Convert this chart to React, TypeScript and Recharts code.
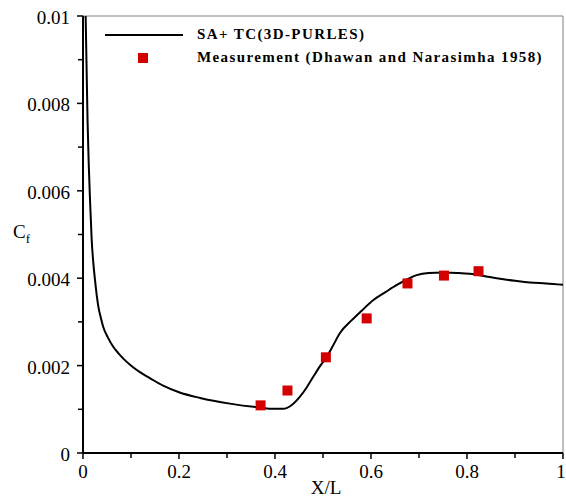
import React from 'react';
import {
  ComposedChart,
  Line,
  Scatter,
  XAxis,
  YAxis,
  ReferenceLine,
  Label,
} from 'recharts';

// simulation curve (SA+ TC 3D-PURLES)
const curveX = [
  0.0055, 0.0075, 0.0095, 0.012, 0.0146, 0.018, 0.0215, 0.025, 0.0285, 0.032,
  0.037, 0.042, 0.052, 0.063, 0.074, 0.084, 0.098, 0.112, 0.126, 0.14, 0.167,
  0.2, 0.244, 0.306, 0.36, 0.4, 0.417, 0.435, 0.452, 0.466, 0.48, 0.4945,
  0.5076, 0.522, 0.535, 0.56, 0.58, 0.605, 0.63, 0.653, 0.675, 0.695, 0.72,
  0.751, 0.78, 0.806, 0.835, 0.862, 0.9, 0.931, 0.965, 1.0,
];
const curveCf = [
  0.01, 0.0088, 0.0076, 0.0066, 0.0058, 0.0049, 0.00435, 0.00396, 0.00362,
  0.00335, 0.0031, 0.00289, 0.00264, 0.00243, 0.00228, 0.00216, 0.00202,
  0.0019, 0.0018, 0.00171, 0.00154, 0.00139, 0.00126, 0.00113, 0.00105,
  0.00101, 0.00101, 0.0011, 0.00129, 0.0015, 0.00175, 0.002, 0.0022, 0.00248,
  0.00274, 0.00304, 0.00325, 0.0035, 0.00368, 0.00384, 0.00397, 0.00407,
  0.00412, 0.00413, 0.00412, 0.0041, 0.00405, 0.004, 0.00394, 0.0039, 0.00388,
  0.00385,
];

// measurement (Dhawan and Narasimha 1958)
const measX = [0.37, 0.426, 0.506, 0.591, 0.676, 0.752, 0.824];
const measCf = [0.00109, 0.00143, 0.00219, 0.00308, 0.00388, 0.00406, 0.00416];

const xTicks = [0, 0.1, 0.2, 0.3, 0.4, 0.5, 0.6, 0.7, 0.8, 0.9, 1];
const yTicks = [0, 0.001, 0.002, 0.003, 0.004, 0.005, 0.006, 0.007, 0.008, 0.009, 0.01];
const xLabels: Record<string, string> = { '0': '0', '0.2': '0.2', '0.4': '0.4', '0.6': '0.6', '0.8': '0.8', '1': '1' };
const yLabels: Record<string, string> = {
  '0': '0', '0.002': '0.002', '0.004': '0.004', '0.006': '0.006', '0.008': '0.008', '0.01': '0.01',
};

const curve = curveX.map((x, i) => ({ x, cf: curveCf[i] }));
const meas = measX.map((x, i) => ({ x, cf: measCf[i] }));

const FONT = '"Liberation Serif", "Times New Roman", serif';
const RED = '#d40000';

const XTick = (props: any) => {
  const { x, y, payload } = props;
  const key = String(+payload.value.toFixed(3));
  const lab = xLabels[key];
  return (
    <g>
      <line x1={x} x2={x} y1={y} y2={y + (lab ? 6 : 5)} stroke="#000" strokeWidth={1.5} />
      {lab && (
        <text x={key === '1' ? x - 2 : x} y={y + 25} textAnchor="middle" fontSize={19} fontFamily={FONT} fill="#000">
          {lab}
        </text>
      )}
    </g>
  );
};

const YTick = (props: any) => {
  const { x, y, payload } = props;
  const key = String(+payload.value.toFixed(4));
  const lab = yLabels[key];
  return (
    <g>
      <line x1={x} x2={x - (lab ? 6 : 5)} y1={y} y2={y} stroke="#000" strokeWidth={1.5} />
      {lab && (
        <text x={x - 13} y={y + 8} textAnchor="end" fontSize={19} fontFamily={FONT} fill="#000">
          {lab}
        </text>
      )}
    </g>
  );
};

const SquareDot = (props: any) => {
  const { cx, cy } = props;
  return <rect x={cx - 5} y={cy - 5} width={10} height={10} fill={RED} />;
};

const LegendBox = () => (
  <div
    style={{
      position: 'absolute',
      left: 105,
      top: 23,
      fontFamily: FONT,
      fontWeight: 'bold',
      fontSize: 15,
      letterSpacing: 1.4,
      color: '#000',
      lineHeight: '23px',
      whiteSpace: 'nowrap',
    }}
  >
    <div style={{ display: 'flex', alignItems: 'center' }}>
      <span style={{ display: 'inline-block', width: 78, height: 2, background: '#000', marginRight: 14 }} />
      <span>SA+ TC(3D-PURLES)</span>
    </div>
    <div style={{ display: 'flex', alignItems: 'center' }}>
      <span style={{ display: 'inline-block', width: 78, marginRight: 14, position: 'relative', height: 10 }}>
        <span style={{ position: 'absolute', left: 33, top: 0, width: 10, height: 10, background: RED }} />
      </span>
      <span>Measurement (Dhawan and Narasimha 1958)</span>
    </div>
  </div>
);

export default function App() {
  return (
    <div style={{ position: 'absolute', left: 0, top: 0, width: 566, height: 497, background: '#fff' }}>
      <ComposedChart width={566} height={497} margin={{ top: 16, right: 3, bottom: 0, left: 0 }}>
        <XAxis
          dataKey="x"
          type="number"
          domain={[0, 1]}
          ticks={xTicks}
          interval={0}
          tickSize={0}
          tickMargin={0}
          tickLine={false}
          tick={<XTick />}
          height={44}
          axisLine={{ stroke: '#000', strokeWidth: 2 }}
        >
          <Label
            content={() => (
              <text x={326} y={494} textAnchor="middle" fontSize={19} fontFamily={FONT} fill="#000">
                X/L
              </text>
            )}
          />
        </XAxis>
        <YAxis
          dataKey="cf"
          type="number"
          domain={[0, 0.01]}
          allowDataOverflow
          ticks={yTicks}
          interval={0}
          tickSize={0}
          tickMargin={0}
          tickLine={false}
          tick={<YTick />}
          width={83}
          axisLine={{ stroke: '#000', strokeWidth: 2 }}
        >
          <Label
            content={() => (
              <text x={13} y={238} fontSize={19} fontFamily={FONT} fill="#000">
                C
                <tspan fontSize={13} dy={5}>f</tspan>
              </text>
            )}
          />
        </YAxis>
        <ReferenceLine y={0.01} stroke="#808080" strokeWidth={1} />
        <ReferenceLine x={1} stroke="#808080" strokeWidth={1} />
        <Line
          data={curve}
          dataKey="cf"
          type="monotone"
          stroke="#000"
          strokeWidth={2}
          dot={false}
          isAnimationActive={false}
          name="SA+ TC(3D-PURLES)"
        />
        <Scatter
          data={meas}
          dataKey="cf"
          fill={RED}
          shape={<SquareDot />}
          isAnimationActive={false}
          name="Measurement (Dhawan and Narasimha 1958)"
        />
      </ComposedChart>
      <LegendBox />
    </div>
  );
}
